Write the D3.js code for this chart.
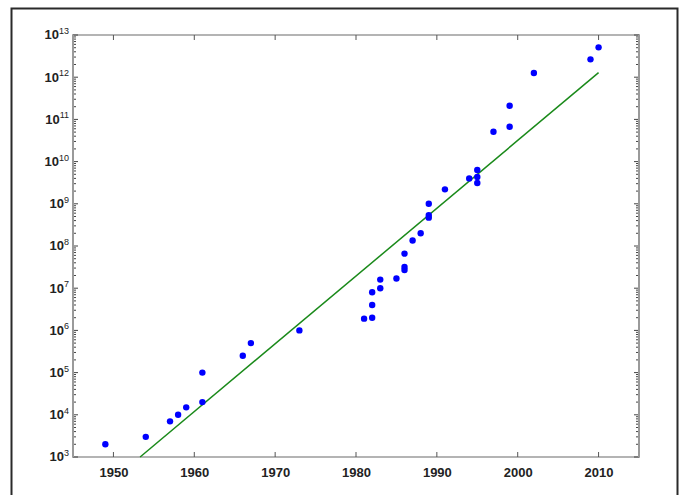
<!DOCTYPE html>
<html>
<head>
<meta charset="utf-8">
<script src="https://cdn.jsdelivr.net/npm/d3@7"></script>
<style>
  body { margin: 0; background: #fff; }
</style>
</head>
<body>
<div id="chart"></div>
<script>
var svgWidth = 679;
var svgHeight = 495;

var margin = { top: 35, right: 40, bottom: 38, left: 73 };
var width = 639 - margin.left;
var height = 457 - margin.top;

// data
var years = [1949, 1954, 1957, 1958, 1959, 1961, 1961, 1966, 1967, 1973,
    1981, 1982, 1982, 1982, 1983, 1983, 1985, 1986, 1986, 1986,
    1987, 1988, 1989, 1989, 1989, 1991, 1994, 1995, 1995, 1995,
    1997, 1999, 1999, 2002, 2009, 2010];
var values = [2e3, 3e3, 7e3, 1e4, 1.5e4, 2e4, 1e5, 2.5e5, 5e5, 1e6,
    1.9e6, 2e6, 4e6, 8e6, 1e7, 1.6e7, 1.7e7, 2.7e7, 3.2e7, 6.6e7,
    1.35e8, 2e8, 4.7e8, 5.4e8, 1e9, 2.2e9, 4e9, 3.1e9, 4.3e9, 6.3e9,
    5.1e10, 6.7e10, 2.1e11, 1.26e12, 2.65e12, 5.1e12];

// trend line end points
var fitYears = [1953.3, 2010];
var fitValues = [1e3, 1.28e12];

var xTicks = [1950, 1960, 1970, 1980, 1990, 2000, 2010];
var yExponents = [3, 4, 5, 6, 7, 8, 9, 10, 11, 12, 13];

var svg = d3.select("#chart")
    .append("svg")
    .attr("width", svgWidth)
    .attr("height", svgHeight);

// outer frame
svg.append("path")
    .attr("d", "M11.5,500 V8.5 H677.5 V500")
    .attr("fill", "none")
    .attr("stroke", "#2a2a2a")
    .attr("stroke-width", 2);

var chartGroup = svg.append("g")
    .attr("transform", `translate(${margin.left}, ${margin.top})`);

var x = d3.scaleLinear().domain([1945, 2015]).range([0, width]);
var y = d3.scaleLog().domain([1e3, 1e13]).range([height, 0]);

// minor tick values for log axis
var minorTicks = [];
yExponents.slice(0, -1).forEach(function (e) {
    for (var k = 2; k <= 9; k++) minorTicks.push(k * Math.pow(10, e));
});
var majorTicks = yExponents.map(e => Math.pow(10, e));

// box lines
chartGroup.append("rect")
    .attr("width", width)
    .attr("height", height)
    .attr("fill", "none")
    .attr("stroke", "#b4b4b4")
    .attr("stroke-width", 2);

function styleLabels(g) {
    g.attr("font-family", "'Liberation Sans', Arial, sans-serif")
        .attr("font-size", 13)
        .attr("font-weight", "bold");
    g.selectAll(".tick text").attr("fill", "#222");
    g.select(".domain").remove();
}

// x axes
var bottomAxis = d3.axisBottom(x).tickValues(xTicks).tickFormat(d3.format("d")).tickSize(0).tickPadding(11);
chartGroup.append("g")
    .attr("transform", `translate(0, ${height})`)
    .call(bottomAxis)
    .call(styleLabels);

chartGroup.selectAll(".xtick-b")
    .data(xTicks)
    .enter()
    .append("line")
    .attr("x1", d => x(d)).attr("x2", d => x(d))
    .attr("y1", height).attr("y2", height - 5)
    .attr("stroke", "#555");

chartGroup.selectAll(".xtick-t")
    .data(xTicks)
    .enter()
    .append("line")
    .attr("x1", d => x(d)).attr("x2", d => x(d))
    .attr("y1", 0).attr("y2", 5)
    .attr("stroke", "#555");

// y axis labels
var leftAxis = d3.axisLeft(y).tickValues(majorTicks).tickSize(0).tickPadding(4).tickFormat("");
var yAxis = chartGroup.append("g").call(leftAxis).call(styleLabels);
yAxis.selectAll(".tick text")
    .each(function (d) {
        var t = d3.select(this);
        t.append("tspan").text("10");
        t.append("tspan")
            .attr("dy", "-0.6em")
            .attr("font-size", 9)
            .attr("font-weight", "normal")
            .text(Math.round(Math.log10(d)));
    })
    .attr("dy", "0.3em");

// y minor and major ticks on both sides
[0, width].forEach(function (xPos, i) {
    var dir = i === 0 ? 1 : -1;
    chartGroup.selectAll(null)
        .data(minorTicks)
        .enter()
        .append("line")
        .attr("x1", xPos).attr("x2", xPos + dir * 3)
        .attr("y1", d => y(d)).attr("y2", d => y(d))
        .attr("stroke", "#444");
    chartGroup.selectAll(null)
        .data(majorTicks)
        .enter()
        .append("line")
        .attr("x1", xPos).attr("x2", xPos + dir * 5)
        .attr("y1", d => y(d)).attr("y2", d => y(d))
        .attr("stroke", "#444");
});

// left / right axis lines
chartGroup.append("line")
    .attr("x1", 0).attr("x2", 0).attr("y1", 0).attr("y2", height)
    .attr("stroke", "#9a9a9a").attr("stroke-width", 2);
chartGroup.append("line")
    .attr("x1", width).attr("x2", width).attr("y1", 0).attr("y2", height)
    .attr("stroke", "#9a9a9a").attr("stroke-width", 2);

// trend line
var fitData = fitYears.map((d, i) => ({ year: d, value: fitValues[i] }));
chartGroup.append("path")
    .datum(fitData)
    .attr("d", d3.line().x(d => x(d.year)).y(d => y(d.value)))
    .attr("fill", "none")
    .attr("stroke", "#1a8a1a")
    .attr("stroke-width", 1.5);

// points
chartGroup.selectAll("circle")
    .data(years)
    .enter()
    .append("circle")
    .attr("cx", d => x(d))
    .attr("cy", (d, i) => y(values[i]))
    .attr("r", 3.2)
    .attr("fill", "#0000ff");
</script>
</body>
</html>
